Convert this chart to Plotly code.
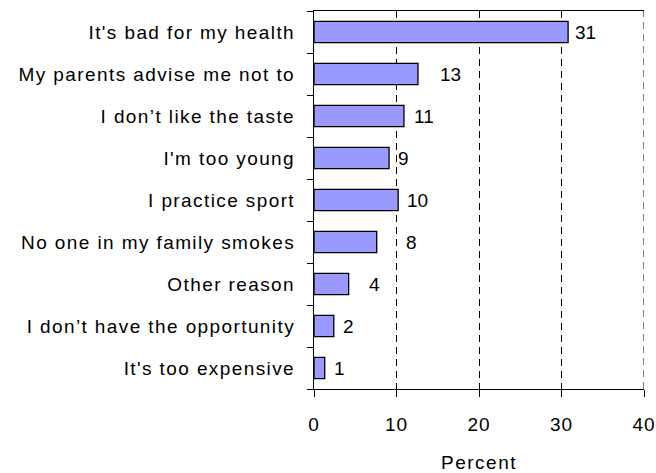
import plotly.graph_objects as go

# Data (top to bottom)
categories = [
    "It's bad for my health",
    "My parents advise me not to",
    "I don’t like the taste",
    "I'm too young",
    "I practice sport",
    "No one in my family smokes",
    "Other reason",
    "I don’t have the opportunity",
    "It's too expensive",
]
values = [30.8, 12.6, 10.9, 9.1, 10.2, 7.6, 4.2, 2.4, 1.3]
value_labels = ["31", "13", "11", "9", "10", "8", "4", "2", "1"]
x_ticks = [0, 10, 20, 30, 40]

# Style: pixel gap between bar end and its label
label_gaps = [5, 20, 8, 7, 7, 27, 18, 7, 7]

FONT = "Liberation Sans, Arial, sans-serif"
SPACING = "1.4px"

fig = go.Figure()
fig.add_trace(go.Bar(
    x=values,
    y=categories,
    orientation="h",
    marker=dict(color="#9999FF", line=dict(color="black", width=1.3)),
    width=0.51,
    hoverinfo="skip",
))

for cat, v, lab, g in zip(categories, values, value_labels, label_gaps):
    fig.add_annotation(
        x=v, y=cat, text=lab, showarrow=False,
        xanchor="left", yanchor="middle", xshift=g,
        font=dict(family=FONT, size=19, color="black"),
    )

# dashed grid line at the right edge (last x tick)
fig.add_shape(
    type="line", xref="x", yref="paper",
    x0=x_ticks[-1], x1=x_ticks[-1], y0=0, y1=1,
    line=dict(color="black", width=1, dash="7px,5px"),
    layer="above",
)

fig.update_layout(
    width=656, height=473,
    margin=dict(l=314, r=12, t=11, b=84),
    paper_bgcolor="white", plot_bgcolor="white",
    showlegend=False,
    font=dict(family=FONT, size=19, color="black"),
)

fig.update_xaxes(
    range=[0, 40],
    automargin=False,
    tickvals=x_ticks,
    ticktext=[f'<span style="letter-spacing:1px">{t}</span>' for t in x_ticks],
    showgrid=True, gridcolor="black", gridwidth=1, griddash="7px,5px",
    showline=True, linecolor="black", linewidth=1.3, mirror=True,
    ticks="outside", ticklen=7, tickcolor="black", tickwidth=1.3,
    ticklabelstandoff=11,
    zeroline=False,
    title=dict(text='<span style="letter-spacing:1.5px">Percent</span>',
               font=dict(family=FONT, size=19), standoff=26),
    tickfont=dict(family=FONT, size=19),
)

fig.update_yaxes(
    type="category",
    autorange="reversed",
    automargin=False,
    tickvals=categories,
    ticktext=[f'<span style="letter-spacing:{SPACING}">{c}</span>' for c in categories],
    tickson="boundaries",
    showgrid=False,
    showline=True, linecolor="black", linewidth=1.3,
    ticks="outside", ticklen=6, tickcolor="black", tickwidth=1.3,
    ticklabelstandoff=14,
    tickfont=dict(family=FONT, size=19),
)

fig.write_html(
    "out.html",
    config={"displayModeBar": False},
    post_script="document.body.style.margin='0';document.body.style.padding='0';",
)
